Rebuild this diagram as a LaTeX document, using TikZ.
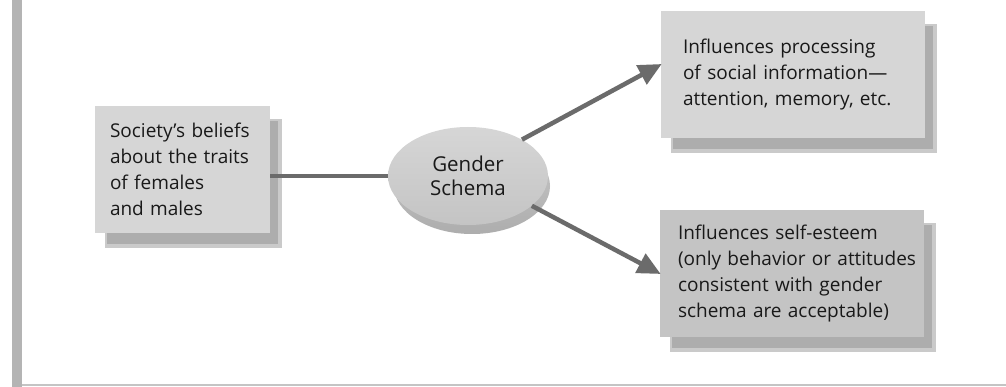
\documentclass[tikz,border=0pt]{standalone}
\usepackage{fontspec}
\setmainfont{Open Sans}
\usetikzlibrary{shapes.geometric,arrows.meta}
\hyphenpenalty=10000
\exhyphenpenalty=10000
\hbadness=10000
\hfuzz=20pt
\definecolor{boxlight}{HTML}{D6D6D6}
\definecolor{boxdark}{HTML}{C4C4C4}
\definecolor{shadowin}{HTML}{ADADAD}
\definecolor{shadowout}{HTML}{CACACA}
\definecolor{linkgray}{HTML}{6B6B6B}
\definecolor{framebar}{HTML}{B4B4B4}
\definecolor{frameline}{HTML}{C4C4C4}
\tikzset{
  infobox/.style={rectangle, minimum width=264pt, minimum height=127pt,
    text width=#1, align=left, inner sep=0pt,
    font=\fontsize{19}{26}\selectfont, text=black!90},
  link/.style={draw=linkgray, line width=4.5pt},
  arrowlink/.style={link, -{Triangle[length=23pt,width=21pt]}, shorten >=-1pt},
}
% soft drop shadow behind a box given by two corners
\newcommand{\boxshadow}[4]{%
  \fill[shadowout] (#1+10,#2+13) rectangle (#3+12,#4+15);
  \fill[shadowin] (#1+12,#2+15) rectangle (#3+8,#4+11);
}
\begin{document}
\begin{tikzpicture}[x=1pt,y=-1pt]
\useasboundingbox (0,0) rectangle (1006,387);
\fill[white] (0,0) rectangle (1006,387);
% frame: left bar and bottom rule
\fill[framebar] (12,0) rectangle (22,387);
\fill[frameline] (22,384) rectangle (1006,386);

% shadows
\boxshadow{95}{106}{270}{233}
\boxshadow{661}{11}{925}{138}
\boxshadow{660}{210}{924}{337}
\shade[top color=shadowout, bottom color=shadowin] (472,186) ellipse [x radius=78, y radius=48];

% boxes
\node[infobox=145pt, minimum width=175pt, fill=boxlight] (lbox) at (182.5,169.5)
  {Society’s beliefs\\about the traits\\of females\\and males};
\node[infobox=220pt, fill=boxlight] (tr) at (793,74.5)
  {Influences processing\\of social information—\\attention, memory, etc.};
\node[infobox=228pt, fill=boxdark] (br) at (792,273.5)
  {Influences self-esteem\\(only~behavior~or~attitudes\\consistent with gender\\schema are acceptable)};

% central ellipse
\node[ellipse, minimum width=160pt, minimum height=98pt, inner sep=0pt,
  top color=boxlight, bottom color=boxdark, align=center,
  font=\fontsize{20.5}{24}\selectfont, text=black!90] (gs) at (468,176)
  {Gender\\Schema};

% connectors
\draw[link] (lbox.east |- gs.west) -- (gs.west);
\draw[arrowlink] (gs.34) -- ([yshift=10pt]tr.west);
\draw[arrowlink] (gs.-25) -- (br.west);
\end{tikzpicture}
\end{document}
